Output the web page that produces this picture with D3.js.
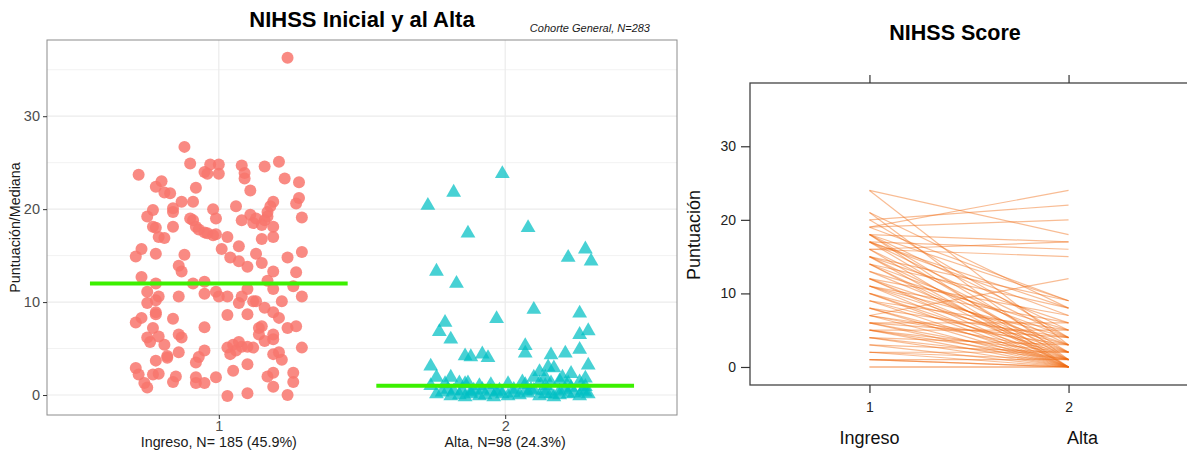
<!DOCTYPE html>
<html>
<head>
<meta charset="utf-8">
<script src="https://cdn.jsdelivr.net/npm/d3@7"></script>
<style>
  body { margin: 0; background: #fff; }
  svg { font-family: "Liberation Sans", Arial, sans-serif; }
</style>
</head>
<body>
<svg id="chart" width="1187" height="455"></svg>
<script>
// ---- data: left panel (jitter offset from category, score) ----
const groups = ["1", "2"]
const group_labels = ["Ingreso, N= 185 (45.9%)", "Alta, N=98 (24.3%)"]
const medians = [12, 1]

const ingreso_jitter = [-0.12,-0.10,-0.03,0.00,-0.05,-0.04,0.00,0.08,0.16,0.21,0.09,0.09,0.23,0.28,-0.28,-0.20,-0.22,-0.19,-0.17,-0.08,0.11,0.28,0.27,0.29,0.19,0.18,0.17,0.17,0.16,0.15,-0.13,-0.09,0.06,-0.02,-0.01,-0.16,-0.16,-0.23,-0.25,-0.10,-0.09,0.08,0.11,0.13,0.12,-0.23,-0.22,-0.21,-0.19,-0.16,-0.08,-0.07,-0.05,-0.04,-0.02,-0.01,0.03,0.15,0.19,0.19,0.07,0.01,-0.27,-0.29,-0.22,-0.12,0.04,0.07,0.13,0.15,0.10,0.24,0.29,-0.14,
  -0.13,-0.27,-0.22,-0.09,-0.05,0.19,0.27,0.17,0.19,0.26,0.29,-0.25,-0.21,-0.22,-0.25,-0.14,-0.05,-0.01,0.00,0.03,0.10,0.08,0.07,0.12,0.13,0.16,0.22,0.19,0.21,-0.22,-0.22,-0.29,-0.27,-0.16,0.03,0.10,-0.05,-0.23,-0.25,-0.24,-0.21,-0.19,-0.14,-0.13,0.14,0.15,0.14,0.16,0.19,0.19,0.24,0.27,0.03,0.05,0.07,0.08,0.10,0.12,0.04,0.06,-0.05,-0.14,-0.18,-0.18,-0.22,-0.07,-0.08,0.19,0.21,0.22,0.29,-0.29,-0.28,-0.23,-0.21,-0.15,-0.16,-0.08,-0.08,-0.05,-0.01,0.05,0.10,0.17,0.19,0.26,0.26,0.19,-0.26,-0.25,0.03,0.10,0.24,0.24]
const ingreso_score = [26.7,24.9,24.8,24.8,24.0,23.8,23.8,24.7,24.6,25.1,23.9,23.3,23.3,22.9,23.7,23.0,22.4,21.8,21.7,22.3,22.0,21.2,20.6,19.1,20.8,20.3,19.7,19.2,18.8,18.3,20.8,20.8,20.3,20.0,19.0,20.1,19.7,19.9,19.2,19.0,18.8,18.8,19.4,19.0,18.5,18.1,18.0,17.0,16.9,18.1,18.1,17.8,17.5,17.4,17.2,17.3,17.0,16.8,18.1,17.0,16.0,15.7,15.7,14.9,15.2,15.1,14.8,14.4,15.2,14.2,13.8,14.8,15.4,13.9,
  13.3,12.7,12.0,12.0,12.2,13.3,13.2,12.3,11.4,11.7,10.6,11.1,10.6,10.2,9.9,10.6,10.9,11.1,10.6,10.6,11.4,10.6,9.9,10.1,10.1,9.4,10.1,8.9,8.3,8.9,8.7,7.8,8.3,8.2,8.6,8.7,7.3,7.2,6.2,5.7,6.3,5.4,6.5,6.2,7.2,7.4,6.5,5.8,6.5,6.0,7.2,7.4,5.1,5.4,5.7,5.2,5.2,5.1,4.4,4.8,4.8,4.6,4.2,4.0,3.7,4.1,3.5,4.4,4.6,3.8,5.1,2.9,2.2,2.2,2.3,2.0,1.4,1.9,1.3,1.3,1.9,2.6,3.3,2.0,2.4,2.4,1.4,0.9,1.3,0.8,-0.1,0.2,0.0,36.3]

const alta_jitter = [-0.01,-0.18,-0.27,-0.13,0.08,0.28,0.22,0.30,-0.24,-0.17,0.10,0.26,-0.03,-0.21,-0.23,0.29,0.26,-0.19,0.07,0.07,0.26,0.21,0.16,-0.14,-0.12,-0.08,-0.06,-0.26,0.29,0.15,0.17,0.12,-0.24,-0.19,0.23,0.20,0.14,0.28,0.10,0.26,-0.26,-0.16,-0.13,0.01,0.06,0.12,0.16,0.19,0.22,0.28,0.23,
  -0.24,-0.19,-0.16,-0.14,-0.12,-0.09,-0.07,-0.04,-0.01,0.01,0.05,0.08,0.12,0.14,0.17,0.19,0.22,0.26,0.29,-0.20,-0.18,-0.11,-0.08,-0.05,-0.02,0.03,0.07,0.09,0.14,0.19,0.21,0.27,-0.21,-0.14,-0.09,-0.05,0.07,0.14,-0.22,0.03,0.10,0.16,0.24,-0.03,-0.15,-0.12,0.28]
const alta_score = [23.8,21.8,20.4,17.4,18.0,15.7,14.8,14.4,13.3,12.0,9.2,8.8,8.2,7.8,6.8,6.9,6.5,6.0,5.3,4.5,4.9,4.5,4.3,4.2,4.1,4.4,4.0,3.1,3.2,3.0,2.9,2.5,1.9,1.9,2.3,1.9,1.9,1.8,1.9,1.4,1.0,1.3,1.3,1.2,1.4,1.3,1.3,1.5,1.3,0.9,0.8,
  0.1,-0.1,0.0,-0.2,0.1,-0.1,0.0,-0.2,0.1,-0.1,0.0,0.2,-0.1,0.1,-0.2,0.0,0.1,-0.1,0.1,0.6,0.4,0.5,0.6,0.4,0.5,0.6,0.4,0.6,0.5,0.4,0.6,0.5,1.2,1.2,1.0,1.1,1.1,1.0,0.3,0.2,0.5,0.1,0.2,0.3,0.5,0.3,0.3]

// ---- data: right panel (paired scores) ----
const pair_labels = ["Ingreso", "Alta"]
const pre_scores  = [24,24,21,21,20,20,19,19,18,18,18,18,18,17,17,17,17,16,16,16,15,15,15,15,14,14,14,14,13,13,12,12,12,12,11,11,11,11,10,10,10,9,9,9,8,8,8,7,7,7,7,6,6,6,6,5,5,5,5,4,4,4,3,3,2,2,2,1,1,0,0,1,16,17,19]
const post_scores = [18,3,8,1,22,4,24,20,17,9,5,2,0,16,8,4,1,15,3,0,9,6,2,0,8,4,1,0,5,2,7,3,0,1,4,2,0,6,3,1,0,5,2,0,4,1,0,12,3,0,2,6,4,1,0,5,2,0,1,3,1,0,2,0,1,0,2,1,0,0,0,0,17,7,9]

const svg = d3.select("#chart")
const FONT = "Liberation Sans, Arial, sans-serif"

// ================= left panel =================
const L = { left: 47, right: 677, top: 40, bottom: 415 }
const lx = d3.scaleLinear().domain([0.4, 2.6]).range([L.left, L.right])
const ly = d3.scaleLinear().domain([-2.15, 38.2]).range([L.bottom, L.top])

const left = svg.append("g")

// grid
left.selectAll(".minor").data([5, 15, 25, 35]).enter().append("line")
  .attr("x1", L.left).attr("x2", L.right)
  .attr("y1", d => ly(d)).attr("y2", d => ly(d))
  .attr("stroke", "#f2f2f2").attr("stroke-width", 1)
left.selectAll(".major").data([0, 10, 20, 30]).enter().append("line")
  .attr("x1", L.left).attr("x2", L.right)
  .attr("y1", d => ly(d)).attr("y2", d => ly(d))
  .attr("stroke", "#ebebeb").attr("stroke-width", 1.2)
left.selectAll(".vmajor").data([1, 2]).enter().append("line")
  .attr("x1", d => lx(d)).attr("x2", d => lx(d))
  .attr("y1", L.top).attr("y2", L.bottom)
  .attr("stroke", "#ebebeb").attr("stroke-width", 1.2)

// points
const circles = ingreso_score.map((v, i) => ({ x: 1 + ingreso_jitter[i], y: v }))
left.selectAll(".pt1").data(circles).enter().append("circle")
  .attr("cx", d => lx(d.x)).attr("cy", d => ly(d.y)).attr("r", 6)
  .attr("fill", "#F8766D").attr("fill-opacity", 0.85)

const tris = alta_score.map((v, i) => ({ x: 2 + alta_jitter[i], y: v }))
left.selectAll(".pt2").data(tris).enter().append("path")
  .attr("d", d3.symbol(d3.symbolTriangle, 95))
  .attr("transform", d => `translate(${lx(d.x)},${ly(d.y)})`)
  .attr("fill", "#00BFC4").attr("fill-opacity", 0.72)

// median lines
left.selectAll(".median").data(medians).enter().append("line")
  .attr("x1", (d, i) => lx(i + 1 - 0.45)).attr("x2", (d, i) => lx(i + 1 + 0.45))
  .attr("y1", d => ly(d)).attr("y2", d => ly(d))
  .attr("stroke", "#3cf000").attr("stroke-width", 4)

// border
left.append("rect")
  .attr("x", L.left).attr("y", L.top)
  .attr("width", L.right - L.left).attr("height", L.bottom - L.top)
  .attr("fill", "none").attr("stroke", "#8c8c8c").attr("stroke-width", 1)

// axes
const ly_axis = left.append("g")
  .attr("transform", `translate(${L.left},0)`)
  .call(d3.axisLeft(ly).tickValues([0, 10, 20, 30]).tickSize(4).tickPadding(3))
ly_axis.select(".domain").remove()
ly_axis.selectAll("line").attr("stroke", "#333")
ly_axis.selectAll("text").attr("fill", "#4d4d4d").attr("font-size", 14.5)
  .attr("font-family", FONT)

const lx_axis = left.append("g")
  .attr("transform", `translate(0,${L.bottom})`)
  .call(d3.axisBottom(lx).tickValues([1, 2]).tickFormat(d3.format("d")).tickSize(4).tickPadding(2))
lx_axis.select(".domain").remove()
lx_axis.selectAll("line").attr("stroke", "#333")
lx_axis.selectAll("text").attr("fill", "#4d4d4d").attr("font-size", 14.5)
  .attr("font-family", FONT)

left.selectAll(".glabel").data(group_labels).enter().append("text")
  .attr("x", (d, i) => lx(i + 1)).attr("y", 447)
  .attr("text-anchor", "middle").attr("font-size", 14.3).attr("fill", "#1a1a1a")
  .text(d => d)

left.append("text")
  .attr("transform", `translate(20,${(L.top + L.bottom) / 2}) rotate(-90)`)
  .attr("text-anchor", "middle").attr("font-size", 14.3).attr("fill", "#1a1a1a")
  .text("Puntuación/Mediana")

left.append("text")
  .attr("x", (L.left + L.right) / 2).attr("y", 27)
  .attr("text-anchor", "middle").attr("font-size", 22).attr("font-weight", "bold")
  .text("NIHSS Inicial y al Alta")

left.append("text")
  .attr("x", 650).attr("y", 32)
  .attr("text-anchor", "end").attr("font-size", 11).attr("font-style", "italic")
  .attr("fill", "#1a1a1a")
  .text("Cohorte General, N=283")

// ================= right panel =================
const R = { left: 750, right: 1188, top: 83, bottom: 385 }
const rx = d3.scaleLinear().domain([0.4, 2.6]).range([R.left, R.right])
const ry = d3.scaleLinear().domain([-2.45, 38.6]).range([R.bottom, R.top])

const right = svg.append("g")

right.selectAll(".pair").data(pre_scores.map((v, i) => [v, post_scores[i]])).enter()
  .append("line")
  .attr("x1", rx(1)).attr("x2", rx(2))
  .attr("y1", d => ry(d[0])).attr("y2", d => ry(d[1]))
  .attr("stroke", "#f06a12").attr("stroke-opacity", 0.45).attr("stroke-width", 1.2)

right.append("rect")
  .attr("x", R.left).attr("y", R.top)
  .attr("width", R.right - R.left).attr("height", R.bottom - R.top)
  .attr("fill", "none").attr("stroke", "#444").attr("stroke-width", 1.3)

const ry_axis = right.append("g")
  .attr("transform", `translate(${R.left},0)`)
  .call(d3.axisLeft(ry).tickValues([0, 10, 20, 30]).tickSize(9).tickPadding(5))
ry_axis.select(".domain").remove()
ry_axis.selectAll("line").attr("stroke", "#333").attr("stroke-width", 1.2)
ry_axis.selectAll("text").attr("fill", "#222").attr("font-size", 14)
  .attr("font-family", FONT)

const rx_axis = right.append("g")
  .attr("transform", `translate(0,${R.bottom})`)
  .call(d3.axisBottom(rx).tickValues([1, 2]).tickFormat(d3.format("d")).tickSize(8).tickPadding(9))
rx_axis.select(".domain").remove()
rx_axis.selectAll("line").attr("stroke", "#333").attr("stroke-width", 1.2)
rx_axis.selectAll("text").attr("fill", "#222").attr("font-size", 14)
  .attr("font-family", FONT)

const rx_top = right.append("g")
  .attr("transform", `translate(0,${R.top})`)
  .call(d3.axisTop(rx).tickValues([1, 2]).tickFormat("").tickSize(8))
rx_top.select(".domain").remove()
rx_top.selectAll("line").attr("stroke", "#333").attr("stroke-width", 1.2)

right.selectAll(".plabel").data(pair_labels).enter().append("text")
  .attr("x", (d, i) => rx(i + 1) + (i === 1 ? 14 : 0)).attr("y", 444)
  .attr("text-anchor", "middle").attr("font-size", 18).attr("fill", "#111")
  .text(d => d)

right.append("text")
  .attr("transform", `translate(700,${(R.top + R.bottom) / 2 + 1}) rotate(-90)`)
  .attr("text-anchor", "middle").attr("font-size", 18).attr("fill", "#111")
  .text("Puntuación")

right.append("text")
  .attr("x", 955).attr("y", 40)
  .attr("text-anchor", "middle").attr("font-size", 21.5).attr("font-weight", "bold")
  .text("NIHSS Score")
</script>
</body>
</html>
